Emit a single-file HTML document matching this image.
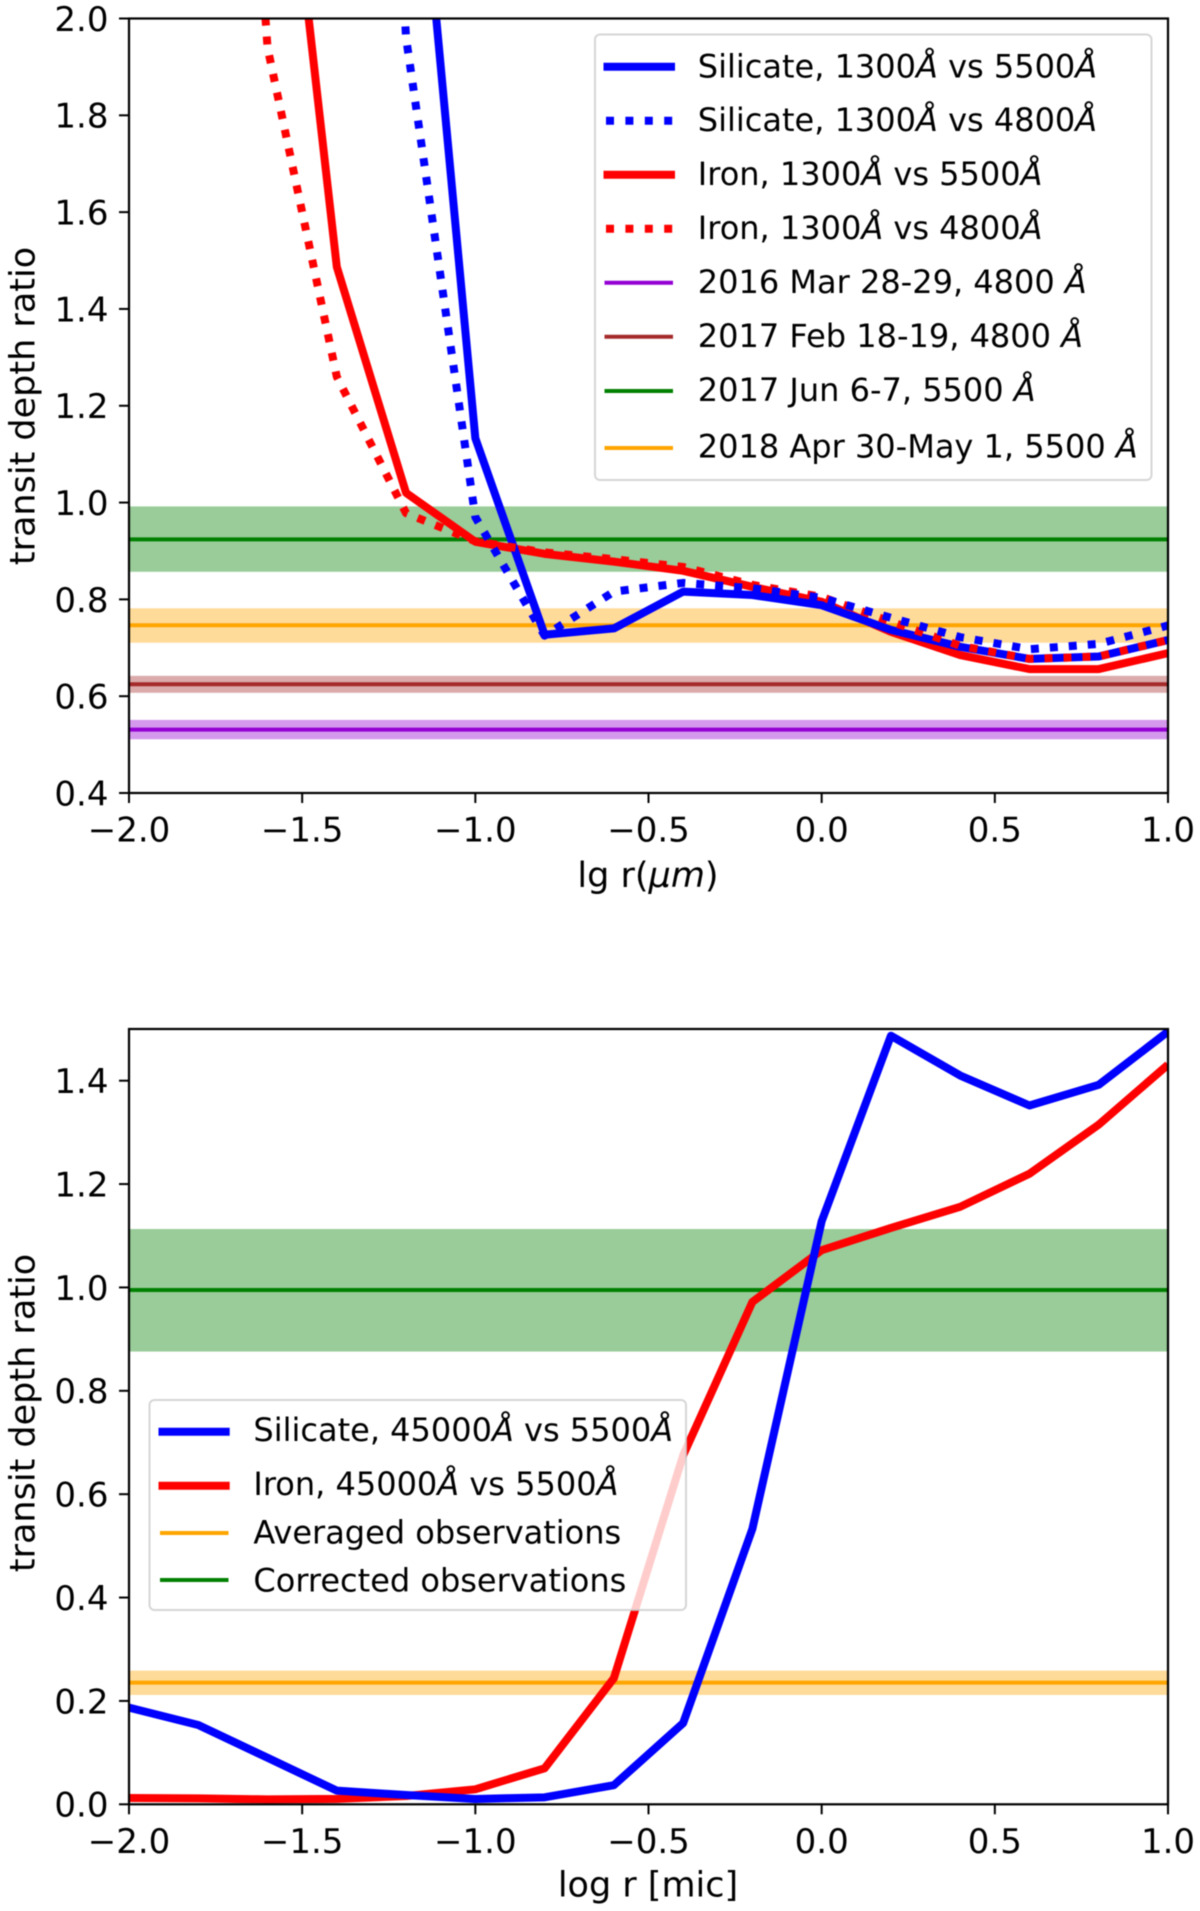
<!DOCTYPE html>
<html lang="en">
<head>
<meta charset="utf-8">
<title>Transit depth ratio charts</title>
<style>
html,body{margin:0;padding:0;background:#fff;}
svg{display:block;filter:blur(.4px);}
text{font-family:"DejaVu Sans","Liberation Sans",sans-serif;font-size:32px;fill:#000;}
text.tick-label{font-size:34px;}
text.axis-title{font-size:35px;}
.leg-frame{fill:#fff;fill-opacity:.8;stroke:#ccc;stroke-opacity:.8;stroke-width:2;}
</style>
</head>
<body>
<svg id="figure" width="1200" height="1911" viewBox="0 0 1200 1911" xmlns="http://www.w3.org/2000/svg">
<defs>
<clipPath id="clip-top"><rect x="129" y="18.5" width="1039" height="774.5"/></clipPath>
<clipPath id="clip-bottom"><rect x="129" y="1029" width="1039" height="775.3"/></clipPath>
</defs>
<g id="top-chart"></g>
<g id="top-legend">
<rect class="leg-frame" x="595" y="34.5" width="556.5" height="445.5" rx="5" ry="5"/>
<g><line x1="603.5" x2="675" y1="66.7" y2="66.7" stroke="#0000ff" stroke-width="8"/><text x="697.8" y="77.5">Silicate, 1300<tspan font-style="italic">Å</tspan> vs 5500<tspan font-style="italic">Å</tspan></text></g>
<g><line x1="606" x2="673" y1="120.7" y2="120.7" stroke="#0000ff" stroke-width="8" stroke-dasharray="8 11.4"/><text x="697.8" y="131">Silicate, 1300<tspan font-style="italic">Å</tspan> vs 4800<tspan font-style="italic">Å</tspan></text></g>
<g><line x1="603.5" x2="675" y1="174.7" y2="174.7" stroke="#ff0000" stroke-width="8"/><text x="697.8" y="185">Iron, 1300<tspan font-style="italic">Å</tspan> vs 5500<tspan font-style="italic">Å</tspan></text></g>
<g><line x1="606" x2="673" y1="228.7" y2="228.7" stroke="#ff0000" stroke-width="8" stroke-dasharray="8 11.4"/><text x="697.8" y="239">Iron, 1300<tspan font-style="italic">Å</tspan> vs 4800<tspan font-style="italic">Å</tspan></text></g>
<g><line x1="604.5" x2="673" y1="282.7" y2="282.7" stroke="#9400d3" stroke-width="4"/><text x="697.8" y="293">2016 Mar 28-29, 4800 <tspan font-style="italic">Å</tspan></text></g>
<g><line x1="604.5" x2="673" y1="336.7" y2="336.7" stroke="#a52a2a" stroke-width="4"/><text x="697.8" y="347">2017 Feb 18-19, 4800 <tspan font-style="italic">Å</tspan></text></g>
<g><line x1="604.5" x2="673" y1="391" y2="391" stroke="#008000" stroke-width="4"/><text x="697.8" y="401">2017 Jun 6-7, 5500 <tspan font-style="italic">Å</tspan></text></g>
<g><line x1="604.5" x2="673" y1="448" y2="448" stroke="#ffa500" stroke-width="4"/><text x="697.8" y="457.5">2018 Apr 30-May 1, 5500 <tspan font-style="italic">Å</tspan></text></g>
</g>
<g id="bottom-chart"></g>
<g id="bottom-legend">
<rect class="leg-frame" x="149.5" y="1400" width="536.5" height="210" rx="5" ry="5"/>
<g><line x1="158.5" x2="229.7" y1="1431.7" y2="1431.7" stroke="#0000ff" stroke-width="8"/><text x="253.4" y="1441">Silicate, 45000<tspan font-style="italic">Å</tspan> vs 5500<tspan font-style="italic">Å</tspan></text></g>
<g><line x1="158.5" x2="229.7" y1="1485.7" y2="1485.7" stroke="#ff0000" stroke-width="8"/><text x="253.4" y="1495">Iron, 45000<tspan font-style="italic">Å</tspan> vs 5500<tspan font-style="italic">Å</tspan></text></g>
<g><line x1="160" x2="228.5" y1="1533" y2="1533" stroke="#ffa500" stroke-width="4"/><text x="253.4" y="1543.3">Averaged observations</text></g>
<g><line x1="160" x2="228.5" y1="1580" y2="1580" stroke="#008000" stroke-width="4"/><text x="253.4" y="1591.7">Corrected observations</text></g>
</g>
</svg>
<script>
// Shared radius grid and tick labels
const radiusGrid = [-2.0,-1.8,-1.6,-1.4,-1.2,-1.0,-0.8,-0.6,-0.4,-0.2,0.0,0.2,0.4,0.6,0.8,1.0];
const xTickValues = [-2.0,-1.5,-1.0,-0.5,0.0,0.5,1.0];
const topYTickValues = [0.4,0.6,0.8,1.0,1.2,1.4,1.6,1.8,2.0];
const bottomYTickValues = [0.0,0.2,0.4,0.6,0.8,1.0,1.2,1.4];

// Top panel series (points above 2.0 run off the chart and are estimates)
const silicate5500 = [40,22,12,6,2.67,1.133,0.727,0.740,0.816,0.809,0.788,0.737,0.702,0.677,0.682,0.716];
const silicate4800 = [30,16,8,4.5,1.96,0.97,0.725,0.816,0.834,0.823,0.803,0.762,0.722,0.697,0.708,0.746];
const iron5500 = [14,8,2.75,1.487,1.02,0.919,0.894,0.878,0.859,0.826,0.795,0.733,0.685,0.656,0.656,0.689];
const iron4800 = [8,4,1.94,1.26,0.978,0.92,0.897,0.883,0.867,0.83,0.805,0.754,0.704,0.677,0.682,0.716];

// Top panel observations: value, lower bound, upper bound
const obs2016Mar = [0.531,0.511,0.551];
const obs2017Feb = [0.6246,0.607,0.642];
const obs2017Jun = [0.924,0.857,0.992];
const obs2018Apr = [0.7465,0.7105,0.7816];

// Bottom panel series
const silicate45000 = [0.187,0.1535,0.09,0.0264,0.018,0.0103,0.0135,0.037,0.157,0.533,1.128,1.487,1.41,1.352,1.392,1.495];
const iron45000 = [0.0122,0.0115,0.0095,0.0105,0.016,0.029,0.0697,0.244,0.675,0.972,1.072,1.115,1.156,1.22,1.315,1.431];

// Bottom panel observations: value, lower bound, upper bound
const obsAveraged = [0.2354,0.2116,0.2586];
const obsCorrected = [0.995,0.876,1.113];

const SVG_NS = 'http://www.w3.org/2000/svg';
function make(parent, tag, attrs, text) {
  const el = document.createElementNS(SVG_NS, tag);
  for (const k in attrs) el.setAttribute(k, attrs[k]);
  if (text !== undefined) el.textContent = text;
  parent.appendChild(el);
  return el;
}
function fmt(v) {
  return (v < 0 ? '\u2212' : '') + Math.abs(v).toFixed(1);
}
const xLeft = 129, xRight = 1168;
function xScale(v) { return xLeft + (v - (-2)) / 3 * (xRight - xLeft); }
function topY(v) { return 793 - (v - 0.4) / 1.6 * 774.5; }
function bottomY(v) { return 1804.3 - v / 1.5 * 775.3; }

function drawBand(parent, scale, clipId, obs, color, name) {
  const band = make(parent, 'rect', {x: xLeft, width: xRight - xLeft, y: scale(obs[2]), height: scale(obs[1]) - scale(obs[2]), fill: color, 'fill-opacity': 0.4, 'clip-path': 'url(#' + clipId + ')'});
  
  
  const line = make(parent, 'line', {x1: xLeft, x2: xRight, y1: scale(obs[0]), y2: scale(obs[0]), stroke: color, 'stroke-width': 4, 'clip-path': 'url(#' + clipId + ')'});
  
  
}
function drawSeries(parent, scale, clipId, values, color, dotted, name) {
  const pts = values.map((v, i) => xScale(radiusGrid[i]).toFixed(2) + ',' + scale(v).toFixed(2)).join(' ');
  const attrs = {points: pts, fill: 'none', stroke: color, 'stroke-width': 8, 'stroke-linejoin': 'round'};
  if (dotted) attrs['stroke-dasharray'] = '8 11';
  const wrap = make(parent, 'g', {'clip-path': 'url(#' + clipId + ')'});
  const line = make(wrap, 'polyline', attrs);
  
  
}
function drawAxes(parent, scale, yTop, yBottom, yTicks, xTitle, xTitleY, yTitleCenter, prefix) {
  const frame = make(parent, 'rect', {x: xLeft, y: yTop, width: xRight - xLeft, height: yBottom - yTop, fill: 'none', stroke: '#000', 'stroke-width': 2.2});
  
  
  xTickValues.forEach(v => {
    const tick = make(parent, 'line', {x1: xScale(v), x2: xScale(v), y1: yBottom, y2: yBottom + 10, stroke: '#000', 'stroke-width': 2});
    
    
    const label = make(parent, 'text', {class: 'tick-label', x: xScale(v), y: yBottom + 48.5, 'text-anchor': 'middle'}, fmt(v));
    
    
  });
  yTicks.forEach(v => {
    const tick = make(parent, 'line', {x1: xLeft - 10, x2: xLeft, y1: scale(v), y2: scale(v), stroke: '#000', 'stroke-width': 2});
    
    
    const label = make(parent, 'text', {class: 'tick-label', x: 108.5, y: scale(v) + 12.4, 'text-anchor': 'end'}, fmt(v));
    
    
  });
  const xt = make(parent, 'text', {class: 'axis-title', x: 648, y: xTitleY, 'text-anchor': 'middle'});
  
  
  xTitle.forEach(part => {
    make(xt, 'tspan', part[1] ? {'font-style': 'italic'} : {}, part[0]);
  });
  const yt = make(parent, 'text', {class: 'axis-title', x: 0, y: 0, 'text-anchor': 'middle', transform: 'translate(34.5,' + yTitleCenter + ') rotate(-90)'}, 'transit depth ratio');
  
  
}

const topG = document.getElementById('top-chart');
drawBand(topG, topY, 'clip-top', obs2017Jun, '#008000', 'obs-2017-jun');
drawBand(topG, topY, 'clip-top', obs2018Apr, '#ffa500', 'obs-2018-apr');
drawBand(topG, topY, 'clip-top', obs2017Feb, '#a52a2a', 'obs-2017-feb');
drawBand(topG, topY, 'clip-top', obs2016Mar, '#9400d3', 'obs-2016-mar');
drawSeries(topG, topY, 'clip-top', iron5500, '#ff0000', false, 'iron-5500-line');
drawSeries(topG, topY, 'clip-top', silicate5500, '#0000ff', false, 'silicate-5500-line');
drawSeries(topG, topY, 'clip-top', iron4800, '#ff0000', true, 'iron-4800-line');
drawSeries(topG, topY, 'clip-top', silicate4800, '#0000ff', true, 'silicate-4800-line');
drawAxes(topG, topY, 18.5, 793, topYTickValues, [['lg r(', false], ['\u03BCm', true], [')', false]], 887, 406, 'top');

const bottomG = document.getElementById('bottom-chart');
drawBand(bottomG, bottomY, 'clip-bottom', obsCorrected, '#008000', 'obs-corrected');
drawBand(bottomG, bottomY, 'clip-bottom', obsAveraged, '#ffa500', 'obs-averaged');
drawSeries(bottomG, bottomY, 'clip-bottom', iron45000, '#ff0000', false, 'iron-45000-line');
drawSeries(bottomG, bottomY, 'clip-bottom', silicate45000, '#0000ff', false, 'silicate-45000-line');
drawAxes(bottomG, bottomY, 1029, 1804.3, bottomYTickValues, [['log r [mic]', false]], 1896.5, 1413, 'bottom');
</script>
</body>
</html>
